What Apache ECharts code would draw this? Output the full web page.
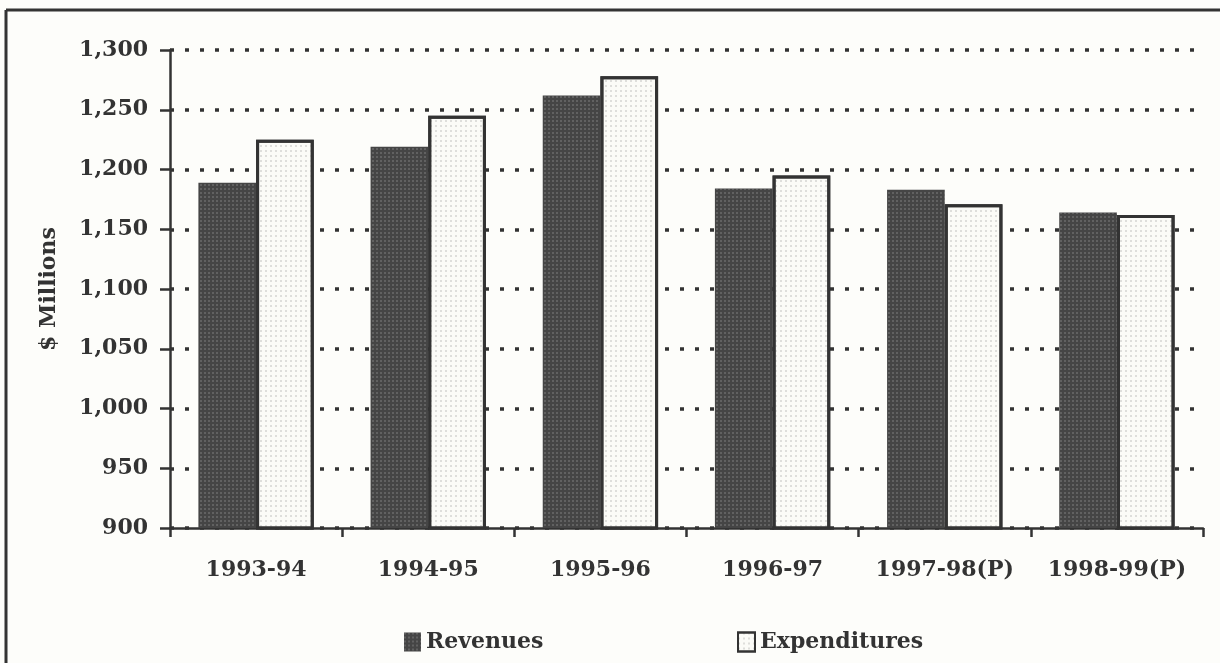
<!DOCTYPE html>
<html>
<head>
<meta charset="utf-8">
<script src="https://cdn.jsdelivr.net/npm/echarts@6/dist/echarts.min.js"></script>
<style>
  html, body { margin: 0; padding: 0; background: #fdfdfa; }
  #main { width: 1220px; height: 663px; }
</style>
</head>
<body>
<div id="main"></div>
<script>
// data
var years = ['1993-94', '1994-95', '1995-96', '1996-97', '1997-98(P)', '1998-99(P)'];
var revenues = [1189, 1219, 1262, 1184, 1183, 1164];
var expenditures = [1225, 1245, 1278, 1195, 1171, 1162];
var seriesNames = ['Revenues', 'Expenditures'];

var font = 'DejaVu Serif';
var ink = '#333';

var chart = echarts.init(document.getElementById('main'));

var legendText = { fontFamily: font, fontWeight: 'bold', fontSize: 22, color: ink };

var option = {
    backgroundColor: '#fdfdfa',
    animation: false,
    grid: { left: 170, right: 17, top: 50, bottom: 135 },
    // frame (top and left edge only, like the scan)
    graphic: [
        { type: 'line', shape: { x1: 6, y1: 10, x2: 1220, y2: 10 }, style: { stroke: ink, lineWidth: 3 } },
        { type: 'line', shape: { x1: 6, y1: 10, x2: 6, y2: 663 }, style: { stroke: ink, lineWidth: 3 } }
    ],
    legend: [
        {
            data: [seriesNames[0]], left: 399, top: 626,
            icon: 'rect', itemWidth: 17, itemHeight: 19,
            textStyle: legendText
        },
        {
            data: [seriesNames[1]], left: 732, top: 626,
            icon: 'rect', itemWidth: 17, itemHeight: 19,
            textStyle: legendText
        }
    ],
    xAxis: {
        type: 'category',
        data: years,
        axisLine: { lineStyle: { color: ink, width: 2.5 } },
        axisTick: { show: true, length: 9, interval: 0, lineStyle: { color: ink, width: 2.5 } },
        axisLabel: { interval: 0, margin: 31, fontFamily: font, fontWeight: 'bold', fontSize: 22, color: ink },
        splitLine: { show: false }
    },
    yAxis: {
        type: 'value',
        min: 900,
        max: 1300,
        interval: 50,
        name: '$ Millions',
        nameLocation: 'middle',
        nameGap: 110,
        nameRotate: 90,
        nameTextStyle: { fontFamily: font, fontWeight: 'bold', fontSize: 22, color: ink },
        axisLine: { show: true, lineStyle: { color: ink, width: 2.5 } },
        axisTick: { show: true, length: 10, lineStyle: { color: ink, width: 2.5 } },
        axisLabel: {
            margin: 22, fontFamily: font, fontWeight: 'bold', fontSize: 22, color: ink,
            formatter: function (v) { return v.toLocaleString('en-US'); }
        },
        splitLine: { show: true, lineStyle: { color: ink, width: 3.5, type: [4, 11] } }
    },
    series: [
        {
            name: seriesNames[0],
            type: 'bar',
            data: revenues,
            barGap: '0%',
            barCategoryGap: '33%',
            itemStyle: {
                color: '#454545',
                decal: {
                    symbol: 'circle', symbolSize: 0.75,
                    color: 'rgba(200,200,200,0.55)',
                    dashArrayX: [2, 2], dashArrayY: [2, 2]
                }
            }
        },
        {
            name: seriesNames[1],
            type: 'bar',
            data: expenditures,
            itemStyle: {
                color: '#fbfbf7',
                borderColor: ink,
                borderWidth: 3,
                decal: {
                    symbol: 'rect', symbolSize: 0.6,
                    color: 'rgba(80,80,80,0.55)',
                    dashArrayX: [2, 3], dashArrayY: [2, 3]
                }
            }
        }
    ]
};

chart.setOption(option);
</script>
</body>
</html>
